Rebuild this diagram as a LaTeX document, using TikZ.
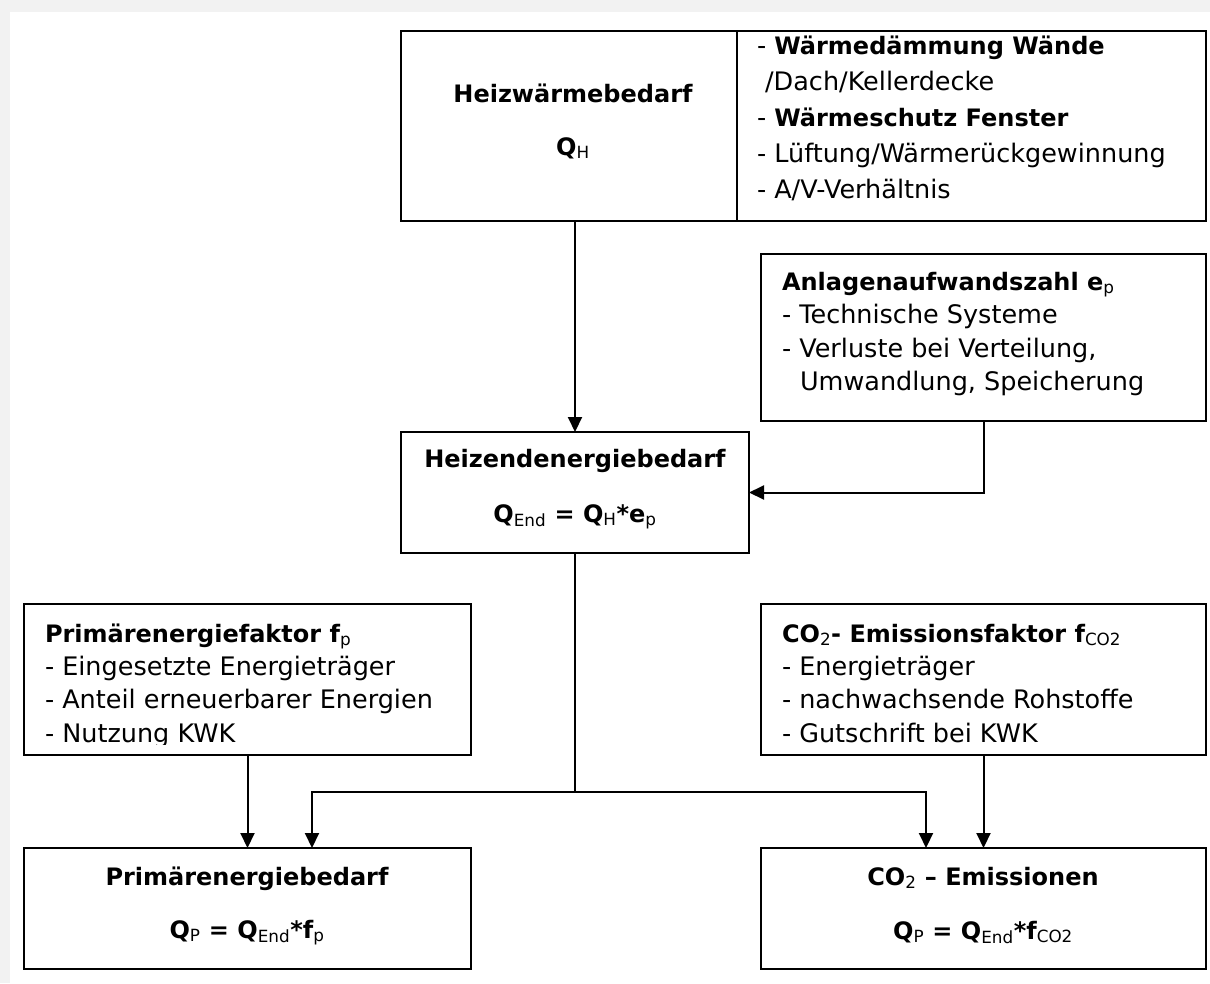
\documentclass[tikz,border=0pt]{standalone}
\usepackage{fontspec}
\setmainfont{DejaVu Sans}
\usetikzlibrary{arrows.meta,calc}
\definecolor{bggray}{RGB}{242,242,242}
\newcommand{\sbs}[1]{\textsubscript{\mdseries #1}}
\newcommand{\bt}[1]{{\fontsize{24}{30}\selectfont\bfseries #1}}
\tikzset{
  box/.style={draw=black, line width=2pt, fill=white, inner sep=0pt, outer sep=0pt},
  txt/.style={inner sep=0pt, outer sep=0pt, font=\fontsize{25.5}{30}\selectfont, anchor=base west},
  ctxt/.style={txt, anchor=base},
  conn/.style={line width=2pt, draw=black},
  arr/.style={conn, -{Triangle[length=15pt,width=14pt]}},
}
\begin{document}
\begin{tikzpicture}[x=1pt,y=-1pt]
\useasboundingbox (0,0) rectangle (1210,983);
\fill[bggray] (0,0) rectangle (1210,983);
\fill[white] (10,12) rectangle (1210,983);

% boxes
\node[box, line width=2.6pt, minimum width=336, minimum height=190] (heizw) at (569,126) {};
\node[box, line width=2.6pt, minimum width=469, minimum height=190] (massn) at (971.5,126) {};
\node[box, minimum width=348, minimum height=121] (hend) at (575,492.5) {};
\node[box, minimum width=445, minimum height=167] (anl) at (983.5,337.5) {};
\node[box, minimum width=447, minimum height=151] (pf) at (247.5,679.5) {};
\node[box, minimum width=445, minimum height=151] (cf) at (983.5,679.5) {};
\node[box, minimum width=447, minimum height=121] (pb) at (247.5,908.5) {};
\node[box, minimum width=445, minimum height=121] (cb) at (983.5,908.5) {};

% texts
\node[ctxt] (h1) at (573,102) {\bt{Heizwärmebedarf}};
\node[ctxt] (h2) at (573,155) {\bt{Q\sbs{H}}};

\node[txt] (m1) at (757,54) {- \bt{Wärmedämmung Wände}};
\node[txt] (m2) at (757,90) {\ /Dach/Kellerdecke};
\node[txt] (m3) at (757,126) {- \bt{Wärmeschutz Fenster}};
\node[txt] (m4) at (757,162) {- Lüftung/Wärmerückgewinnung};
\node[txt] (m5) at (757,198) {- A/V-Verhältnis};

\node[txt] (a1) at (782,290) {\bt{Anlagenaufwandszahl e\sbs{p}}};
\node[txt] (a2) at (782,323) {- Technische Systeme};
\node[txt] (a3) at (782,357) {- Verluste bei Verteilung,};
\node[txt] (a4) at (800,390) {Umwandlung, Speicherung};

\node[ctxt] (e1) at (575,467) {\bt{Heizendenergiebedarf}};
\node[ctxt] (e2) at (575,522) {\bt{Q\sbs{End} = Q\sbs{H}*e\sbs{p}}};

\begin{scope}
  \clip (24,604) rectangle (471,744);
  \node[txt] (p1) at (45,642) {\bt{Primärenergiefaktor f\sbs{p}}};
  \node[txt] (p2) at (45,675) {- Eingesetzte Energieträger};
  \node[txt] (p3) at (45,708) {- Anteil erneuerbarer Energien};
  \node[txt] (p4) at (45,742) {- Nutzung KWK};
\end{scope}

\node[txt] (c1) at (782,642) {\bt{CO\sbs{2}- Emissionsfaktor f\sbs{CO2}}};
\node[txt] (c2) at (782,675) {- Energieträger};
\node[txt] (c3) at (782,708) {- nachwachsende Rohstoffe};
\node[txt] (c4) at (782,742) {- Gutschrift bei KWK};

\node[ctxt] (b1) at (247,885) {\bt{Primärenergiebedarf}};
\node[ctxt] (b2) at (247,938) {\bt{Q\sbs{P} = Q\sbs{End}*f\sbs{p}}};

\node[ctxt] (d1) at (983,885) {\bt{CO\sbs{2} – Emissionen}};
\node[ctxt] (d2) at (983,939) {\bt{Q\sbs{P} = Q\sbs{End}*f\sbs{CO2}}};

% connectors
\coordinate (jl) at (312,792);
\coordinate (jr) at (926,792);
\coordinate (jm) at ($(hend.south |- jl)$);
\draw[arr] (heizw.south -| hend.north) -- (hend.north);
\draw[arr] (anl.south) |- (hend.east);
\draw[conn] (hend.south) -- (jm);
\draw[arr] (jm) -- (jl) -- (jl |- pb.north);
\draw[arr] (jm) -- (jr) -- (jr |- cb.north);
\draw[arr] (pf.south) -- (pb.north);
\draw[arr] (cf.south) -- (cb.north);
\end{tikzpicture}
\end{document}
